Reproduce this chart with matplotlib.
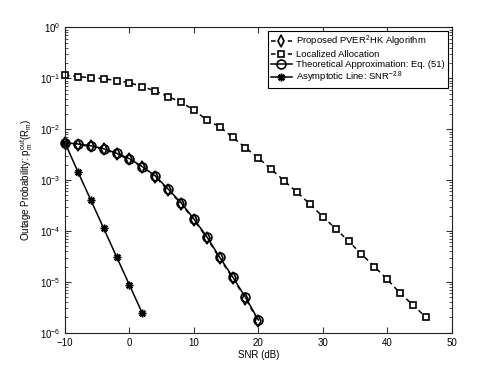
import matplotlib
matplotlib.use("Agg")
import matplotlib.pyplot as plt
from matplotlib.ticker import FixedLocator, LogLocator, NullFormatter

plt.rcParams['font.family'] = ['Liberation Sans', 'DejaVu Sans']
plt.rcParams['mathtext.fontset'] = 'custom'
plt.rcParams['mathtext.rm'] = 'Liberation Sans'
plt.rcParams['mathtext.it'] = 'Liberation Sans'

snr_main = [-10, -8, -6, -4, -2, 0, 2, 4, 6, 8, 10, 12, 14, 16, 18, 20]
proposed = [5.43e-3, 5.0e-3, 4.6e-3, 4.0e-3, 3.25e-3, 2.55e-3, 1.77e-3, 1.16e-3,
            6.4e-4, 3.45e-4, 1.65e-4, 7.4e-5, 2.9e-5, 1.2e-5, 4.7e-6, 1.7e-6]
theory = [5.43e-3, 5.13e-3, 4.74e-3, 4.14e-3, 3.37e-3, 2.64e-3, 1.84e-3, 1.21e-3,
          6.68e-4, 3.60e-4, 1.72e-4, 7.73e-5, 3.04e-5, 1.26e-5, 4.97e-6, 1.78e-6]

snr_loc = [-10, -8, -6, -4, -2, 0, 2, 4, 6, 8, 10, 12, 14, 16, 18, 20, 22, 24, 26,
           28, 30, 32, 34, 36, 38, 40, 42, 44, 46]
localized = [0.116, 0.108, 0.103, 0.0986, 0.0899, 0.0822, 0.0686, 0.0565, 0.0437,
             0.0339, 0.0239, 0.0152, 0.0112, 6.95e-3, 4.34e-3, 2.72e-3, 1.63e-3,
             9.73e-4, 5.75e-4, 3.39e-4, 1.91e-4, 1.11e-4, 6.27e-5, 3.52e-5,
             1.99e-5, 1.12e-5, 5.96e-6, 3.51e-6, 2.01e-6]

snr_asym = [-10, -8, -6, -4, -2, 0, 2]
asymptote = [5.43e-3, 1.46e-3, 4.06e-4, 1.13e-4, 3.12e-5, 8.67e-6, 2.41e-6]

xticks = [-10, 0, 10, 20, 30, 40, 50]
yticks = [1e-6, 1e-5, 1e-4, 1e-3, 1e-2, 1e-1, 1e0]
ytick_labels = [r'$10^{-6}$', r'$10^{-5}$', r'$10^{-4}$', r'$10^{-3}$',
                r'$10^{-2}$', r'$10^{-1}$', r'$10^{0}$']

fig = plt.figure(figsize=(4.98, 3.75), dpi=100)
ax = fig.add_axes([0.1305, 0.1128, 0.7765, 0.8139])

lw = 1.1
mew = 1.2
ax.plot(snr_main, proposed, linestyle='--', color='k', marker='d', markersize=5.8,
        markerfacecolor='white', markeredgecolor='k', markeredgewidth=mew, linewidth=lw,
        label=r'Proposed PVER$^2$HK Algorithm', dashes=(3, 2.5), clip_on=False)
ax.plot(snr_loc, localized, linestyle='--', color='k', marker='s', markersize=4.6,
        markerfacecolor='white', markeredgecolor='k', markeredgewidth=mew, linewidth=lw,
        label='Localized Allocation', dashes=(3, 2.5), clip_on=False)
ax.plot(snr_main, theory, linestyle='-', color='k', marker='o', markersize=6.4,
        markerfacecolor='none', markeredgecolor='k', markeredgewidth=mew, linewidth=lw,
        label='Theoretical Approximation: Eq. (51)', clip_on=False)
ax.plot(snr_asym, asymptote, linestyle='-', color='k', marker=(8, 2, 0), markersize=5.5,
        markeredgecolor='k', markeredgewidth=1.1, linewidth=lw,
        label=r'Asymptotic Line: SNR$^{-2.8}$', clip_on=False)

ax.set_yscale('log')
ax.set_xlim(-10, 50)
ax.set_ylim(1e-6, 1)
ax.set_xticks(xticks)
ax.set_xticklabels(['\u221210' if t < 0 else str(t) for t in xticks])
ax.yaxis.set_major_locator(FixedLocator(yticks))
ax.set_yticklabels(ytick_labels)
ax.yaxis.set_minor_locator(LogLocator(base=10, subs=range(2, 10), numticks=100))
ax.yaxis.set_minor_formatter(NullFormatter())

ax.tick_params(which='both', direction='in', top=True, right=True, labelsize=7,
               color='#333333')
ax.tick_params(which='major', length=4)
ax.tick_params(which='minor', length=2)
for s in ax.spines.values():
    s.set_linewidth(0.8)
    s.set_color('#222222')

ax.set_xlabel('SNR (dB)', fontsize=7, labelpad=2)
ax.set_ylabel(r'Outage Probability: $p_m^{out}(R_m)$', fontsize=7, labelpad=3)

leg = ax.legend(loc='upper right', fontsize=6.8, frameon=True, fancybox=False,
                edgecolor='k', framealpha=1, borderpad=0.3, labelspacing=0.08,
                handlelength=2.2, handletextpad=0.5, borderaxespad=0.4)
leg.get_frame().set_linewidth(0.8)

fig.savefig('out.png', dpi=100)
